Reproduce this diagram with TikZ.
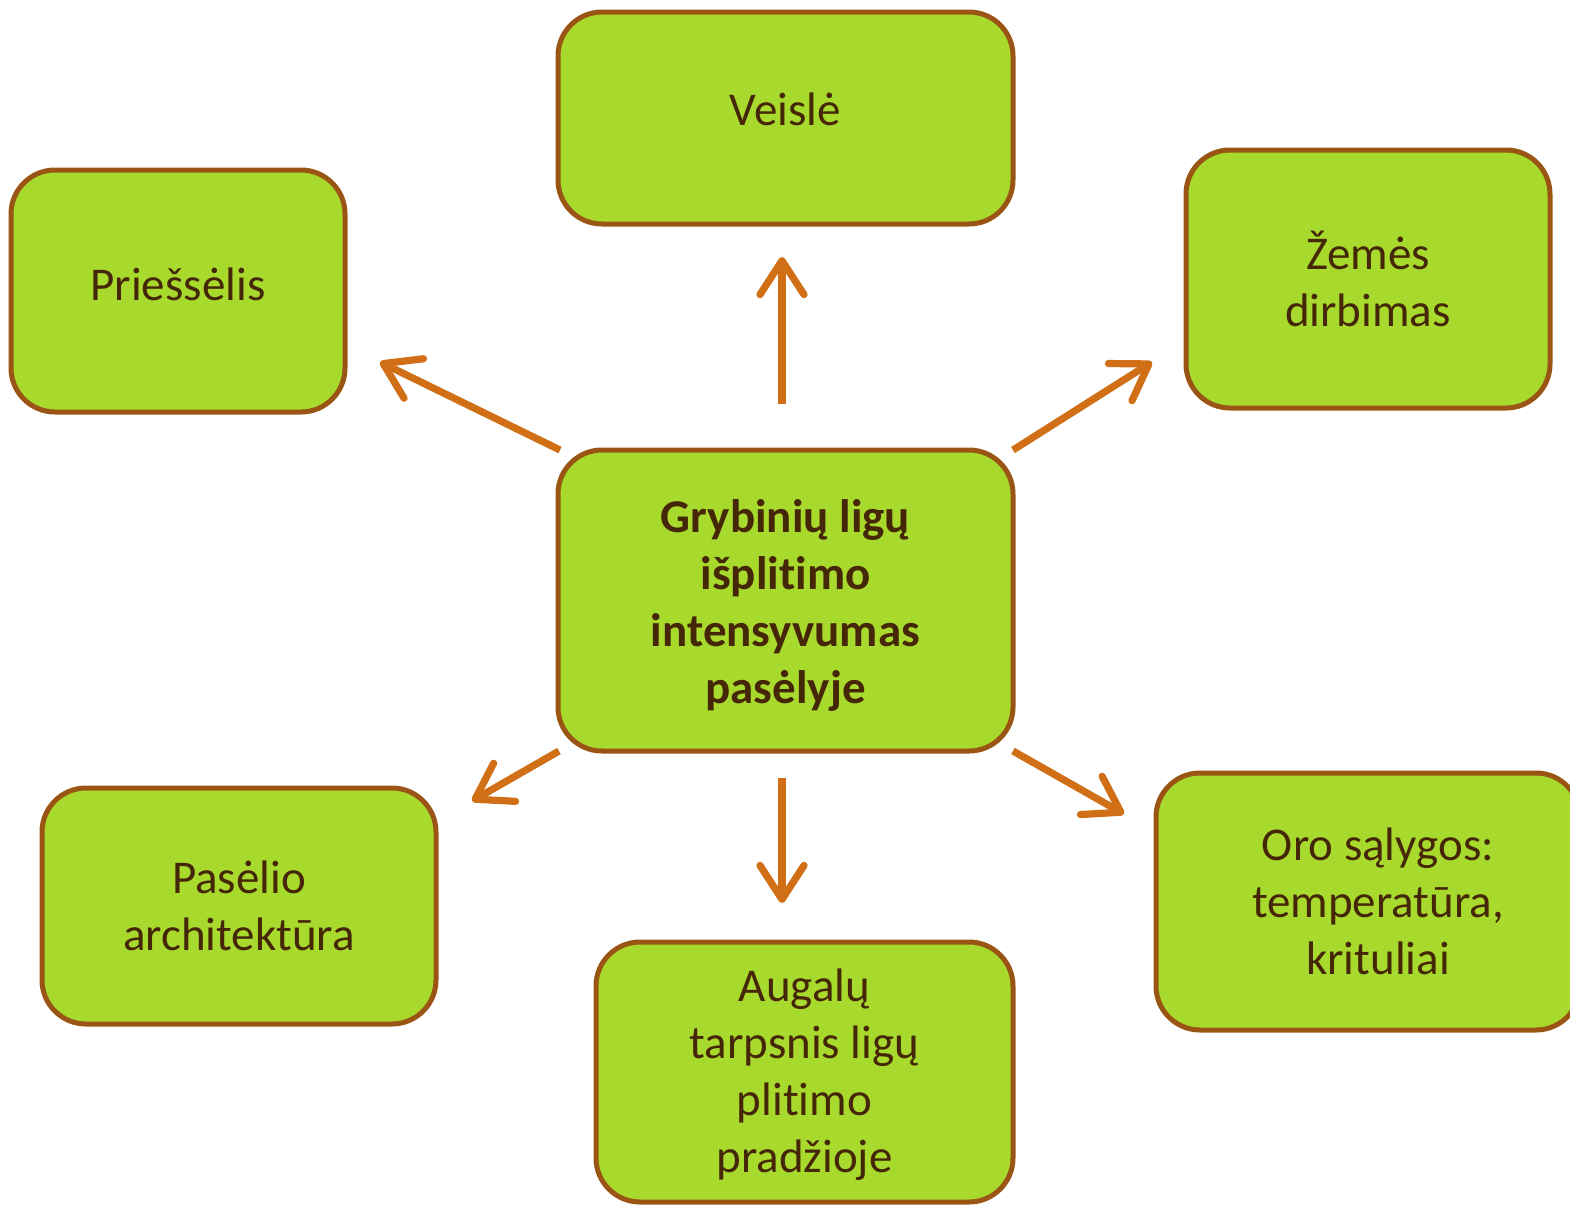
\documentclass[tikz,border=0pt]{standalone}
\usepackage{fontspec}
\setmainfont{Carlito}[Ligatures={NoCommon}]
\usetikzlibrary{arrows.meta}
\definecolor{boxfill}{HTML}{A8DA2E}
\definecolor{boxline}{HTML}{9A5515}
\definecolor{arrcol}{HTML}{D06F16}
\definecolor{txt}{HTML}{452708}
\begin{document}
\begin{tikzpicture}[x=0.5pt,y=-0.5pt,
  box/.style={draw=boxline, line width=2.5pt, fill=boxfill, rounded corners=22pt,
    align=center, text=txt, font=\fontsize{23.5}{28.5}\selectfont, inner sep=0pt},
  arr/.style={draw=arrcol, line width=3.6pt,
    -{Straight Barb[length=17pt,width=22pt,line cap=round,line join=round]}}]
\useasboundingbox (0,0) rectangle (1570,1206);
\node[box, minimum width=227.5pt, minimum height=150.5pt, font=\bfseries\fontsize{23.5}{28.5}\selectfont] (c) at (785.5,600.5) {\raisebox{-9.4pt}[0pt][0pt]{\begin{tabular}{@{}c@{}}Grybinių ligų\\išplitimo\\intensyvumas\\pasėlyje\end{tabular}}};
\node[box, minimum width=227.5pt, minimum height=106pt] (veisle) at (785.5,118) {\raisebox{-3.5pt}[0pt][0pt]{Veislė}};
\node[box, minimum width=167pt, minimum height=121pt] (pries) at (178,291) {\raisebox{-4.5pt}[0pt][0pt]{Priešsėlis}};
\node[box, minimum width=182pt, minimum height=129pt] (zemes) at (1368,279) {Žemės\\dirbimas};
\node[box, minimum width=197pt, minimum height=118pt] (pasel) at (239,906) {Pasėlio\\architektūra};
\node[box, minimum width=208.5pt, minimum height=130pt] (augal) at (804.5,1072) {\raisebox{-7.9pt}[0pt][0pt]{\begin{tabular}{@{}c@{}}Augalų\\tarpsnis ligų\\plitimo\\pradžioje\end{tabular}}};
\node[box, minimum width=212pt, minimum height=128.5pt] (oro) at (1368,901.5) {\hspace*{10pt}Oro sąlygos:\\\hspace*{10pt}temperatūra,\\\hspace*{10pt}krituliai};
% arrow ends
\coordinate (a1s) at (782,404); \coordinate (a1e) at (782,257);
\coordinate (a2s) at (560,450); \coordinate (a2e) at (380,362);
\coordinate (a3s) at (1013,450); \coordinate (a3e) at (1152,362);
\coordinate (a4s) at (559,751); \coordinate (a4e) at (472,801);
\coordinate (a5s) at (782,778); \coordinate (a5e) at (782,903);
\coordinate (a6s) at (1013,751); \coordinate (a6e) at (1124,814);
\draw[arr] (a1s) -- (a1e);
\draw[arr] (a2s) -- (a2e);
\draw[arr] (a3s) -- (a3e);
\draw[arr] (a4s) -- (a4e);
\draw[arr] (a5s) -- (a5e);
\draw[arr] (a6s) -- (a6e);
\end{tikzpicture}
\end{document}
